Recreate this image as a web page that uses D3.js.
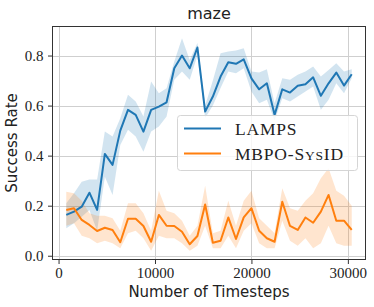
<!DOCTYPE html>
<html>
<head>
<meta charset="utf-8">
<script src="https://cdn.jsdelivr.net/npm/d3@7"></script>
<style>
  html, body { margin: 0; padding: 0; background: #fff; }
  svg { display: block; }
  .serif { font-family: "Liberation Serif", "DejaVu Serif", serif; }
  .sans { font-family: "DejaVu Sans", "Noto Sans", sans-serif; }
</style>
</head>
<body>
<svg id="chart" width="374" height="307"></svg>
<script>
// timesteps of each evaluation
var timesteps = [800, 1600, 2400, 3200, 4000, 4800, 5600, 6400, 7200, 8000,
    8800, 9600, 10400, 11200, 12000, 12800, 13600, 14400, 15200, 16000,
    16800, 17600, 18400, 19200, 20000, 20800, 21600, 22400, 23200, 24000,
    24800, 25600, 26400, 27200, 28000, 28800, 29600, 30400];

var lampsMean = [0.163, 0.176, 0.196, 0.252, 0.183, 0.407, 0.363, 0.500, 0.583, 0.563,
    0.496, 0.583, 0.596, 0.613, 0.749, 0.800, 0.749, 0.832, 0.576, 0.636,
    0.716, 0.773, 0.767, 0.785, 0.709, 0.665, 0.689, 0.563, 0.665, 0.652,
    0.679, 0.685, 0.713, 0.639, 0.689, 0.732, 0.680, 0.725];
var lampsLow = [0.11, 0.13, 0.156, 0.183, 0.10, 0.316, 0.243, 0.443, 0.503, 0.476,
    0.416, 0.496, 0.516, 0.556, 0.703, 0.736, 0.703, 0.80, 0.55, 0.60,
    0.67, 0.736, 0.729, 0.749, 0.656, 0.609, 0.623, 0.54, 0.629, 0.616,
    0.636, 0.656, 0.676, 0.583, 0.623, 0.689, 0.649, 0.709];
var lampsHigh = [0.21, 0.25, 0.296, 0.305, 0.305, 0.496, 0.476, 0.549, 0.643, 0.616,
    0.556, 0.696, 0.649, 0.669, 0.776, 0.869, 0.782, 0.85, 0.60, 0.70,
    0.809, 0.816, 0.82, 0.829, 0.736, 0.732, 0.745, 0.609, 0.709, 0.703,
    0.723, 0.736, 0.756, 0.716, 0.742, 0.769, 0.736, 0.745];

var sysidMean = [0.183, 0.190, 0.143, 0.123, 0.099, 0.112, 0.103, 0.054, 0.148, 0.148,
    0.119, 0.056, 0.163, 0.120, 0.119, 0.096, 0.046, 0.079, 0.205, 0.052,
    0.060, 0.153, 0.067, 0.153, 0.190, 0.100, 0.070, 0.056, 0.216, 0.119,
    0.103, 0.153, 0.132, 0.176, 0.243, 0.140, 0.140, 0.103];
var sysidLow = [0.12, 0.13, 0.08, 0.07, 0.05, 0.06, 0.05, 0.03, 0.09, 0.10,
    0.07, 0.02, 0.08, 0.07, 0.07, 0.05, 0.02, 0.04, 0.12, 0.03,
    0.03, 0.08, 0.03, 0.10, 0.13, 0.05, 0.03, 0.03, 0.14, 0.06,
    0.04, 0.07, 0.03, 0.05, 0.12, 0.05, 0.04, 0.04];
var sysidHigh = [0.256, 0.25, 0.22, 0.17, 0.16, 0.16, 0.15, 0.10, 0.21, 0.21,
    0.17, 0.10, 0.26, 0.18, 0.17, 0.14, 0.08, 0.12, 0.28, 0.09,
    0.10, 0.22, 0.12, 0.22, 0.26, 0.15, 0.12, 0.09, 0.27, 0.19,
    0.18, 0.22, 0.25, 0.31, 0.35, 0.26, 0.24, 0.20];

var xTicks = [0, 10000, 20000, 30000];
var yTicks = [0.0, 0.2, 0.4, 0.6, 0.8];

var series = [
    { name: 'LAMPS', color: '#1f77b4', mean: lampsMean, low: lampsLow, high: lampsHigh },
    { name: 'MBPO-SysID', color: '#ff7f0e', mean: sysidMean, low: sysidLow, high: sysidHigh }
];

var svg = d3.select('#chart');
var box = { left: 52, right: 366, top: 26, bottom: 260 };

var x = d3.scaleLinear().domain([-680, 31880]).range([box.left, box.right]);
var y = d3.scaleLinear().domain([-0.017, 0.918]).range([box.bottom, box.top]);

// grid
var grid = svg.append('g');
grid.selectAll('.gx').data(xTicks).enter().append('line')
    .attr('x1', function(d) { return Math.round(x(d)) + 0.5; })
    .attr('x2', function(d) { return Math.round(x(d)) + 0.5; })
    .attr('y1', box.top).attr('y2', box.bottom)
    .attr('stroke', '#cfcfcf').attr('stroke-width', 1);
grid.selectAll('.gy').data(yTicks).enter().append('line')
    .attr('y1', function(d) { return Math.round(y(d)) + 0.5; })
    .attr('y2', function(d) { return Math.round(y(d)) + 0.5; })
    .attr('x1', box.left).attr('x2', box.right)
    .attr('stroke', '#cfcfcf').attr('stroke-width', 1);

svg.append('clipPath').attr('id', 'clip').append('rect')
    .attr('x', box.left).attr('y', box.top)
    .attr('width', box.right - box.left).attr('height', box.bottom - box.top);

var plot = svg.append('g').attr('clip-path', 'url(#clip)');

var area = function(s) {
    return d3.area()
        .x(function(d, i) { return x(timesteps[i]); })
        .y0(function(d, i) { return y(s.low[i]); })
        .y1(function(d, i) { return y(s.high[i]); });
};
var line = d3.line()
    .x(function(d, i) { return x(timesteps[i]); })
    .y(function(d) { return y(d); });

series.forEach(function(s) {
    plot.append('path').datum(s.mean)
        .attr('d', area(s))
        .attr('fill', s.color).attr('fill-opacity', 0.2);
});
series.forEach(function(s) {
    plot.append('path').datum(s.mean)
        .attr('d', line)
        .attr('fill', 'none')
        .attr('stroke', s.color).attr('stroke-width', 2)
        .attr('stroke-linejoin', 'round');
});

// axes
var xAxis = svg.append('g')
    .attr('transform', 'translate(0,' + box.bottom + ')')
    .call(d3.axisBottom(x).tickValues(xTicks).tickSize(4).tickFormat(d3.format('d')));
var yAxis = svg.append('g')
    .attr('transform', 'translate(' + box.left + ',0)')
    .call(d3.axisLeft(y).tickValues(yTicks).tickSize(4).tickFormat(d3.format('.1f')));
[xAxis, yAxis].forEach(function(a) {
    a.select('.domain').remove();
    a.selectAll('line').attr('stroke', '#333');
    a.selectAll('text').attr('class', 'serif').attr('font-size', 15).attr('fill', '#222');
});
xAxis.selectAll('text').attr('dy', '0.71em');
yAxis.selectAll('text').attr('dx', '-0.1em');

svg.append('rect')
    .attr('x', box.left + 0.5).attr('y', box.top + 0.5)
    .attr('width', box.right - box.left - 1).attr('height', box.bottom - box.top - 1)
    .attr('fill', 'none').attr('stroke', '#333').attr('stroke-width', 1);

// legend
var lg = svg.append('g').attr('transform', 'translate(177,115)');
lg.append('rect')
    .attr('x', 0.5).attr('y', 0.5).attr('width', 180).attr('height', 55)
    .attr('rx', 3).attr('fill', '#fff').attr('fill-opacity', 0.8)
    .attr('stroke', '#d5d5d5');
series.forEach(function(s, i) {
    var ly = 13.5 + i * 25;
    lg.append('line')
        .attr('x1', 7).attr('x2', 44).attr('y1', ly).attr('y2', ly)
        .attr('stroke', s.color).attr('stroke-width', 2);
    var t = lg.append('text').attr('class', 'serif')
        .attr('x', 58).attr('y', ly + 6)
        .attr('font-size', 17.5).attr('letter-spacing', 0.8).attr('fill', '#222');
    if (s.name === 'MBPO-SysID') {
        t.append('tspan').text('MBPO-S');
        t.append('tspan').attr('font-size', 13.5).text('YS');
        t.append('tspan').text('ID');
    } else {
        t.text(s.name);
    }
});

// titles
svg.append('text').attr('class', 'sans')
    .attr('x', (box.left + box.right) / 2).attr('y', 19)
    .attr('text-anchor', 'middle').attr('font-size', 16).attr('fill', '#222')
    .text('maze');
svg.append('text').attr('class', 'sans')
    .attr('x', (box.left + box.right) / 2).attr('y', 297)
    .attr('text-anchor', 'middle').attr('font-size', 15).attr('fill', '#222')
    .text('Number of Timesteps');
svg.append('text').attr('class', 'sans')
    .attr('transform', 'translate(17,' + ((box.top + box.bottom) / 2) + ') rotate(-90)')
    .attr('text-anchor', 'middle').attr('font-size', 15).attr('fill', '#222')
    .text('Success Rate');
</script>
</body>
</html>
